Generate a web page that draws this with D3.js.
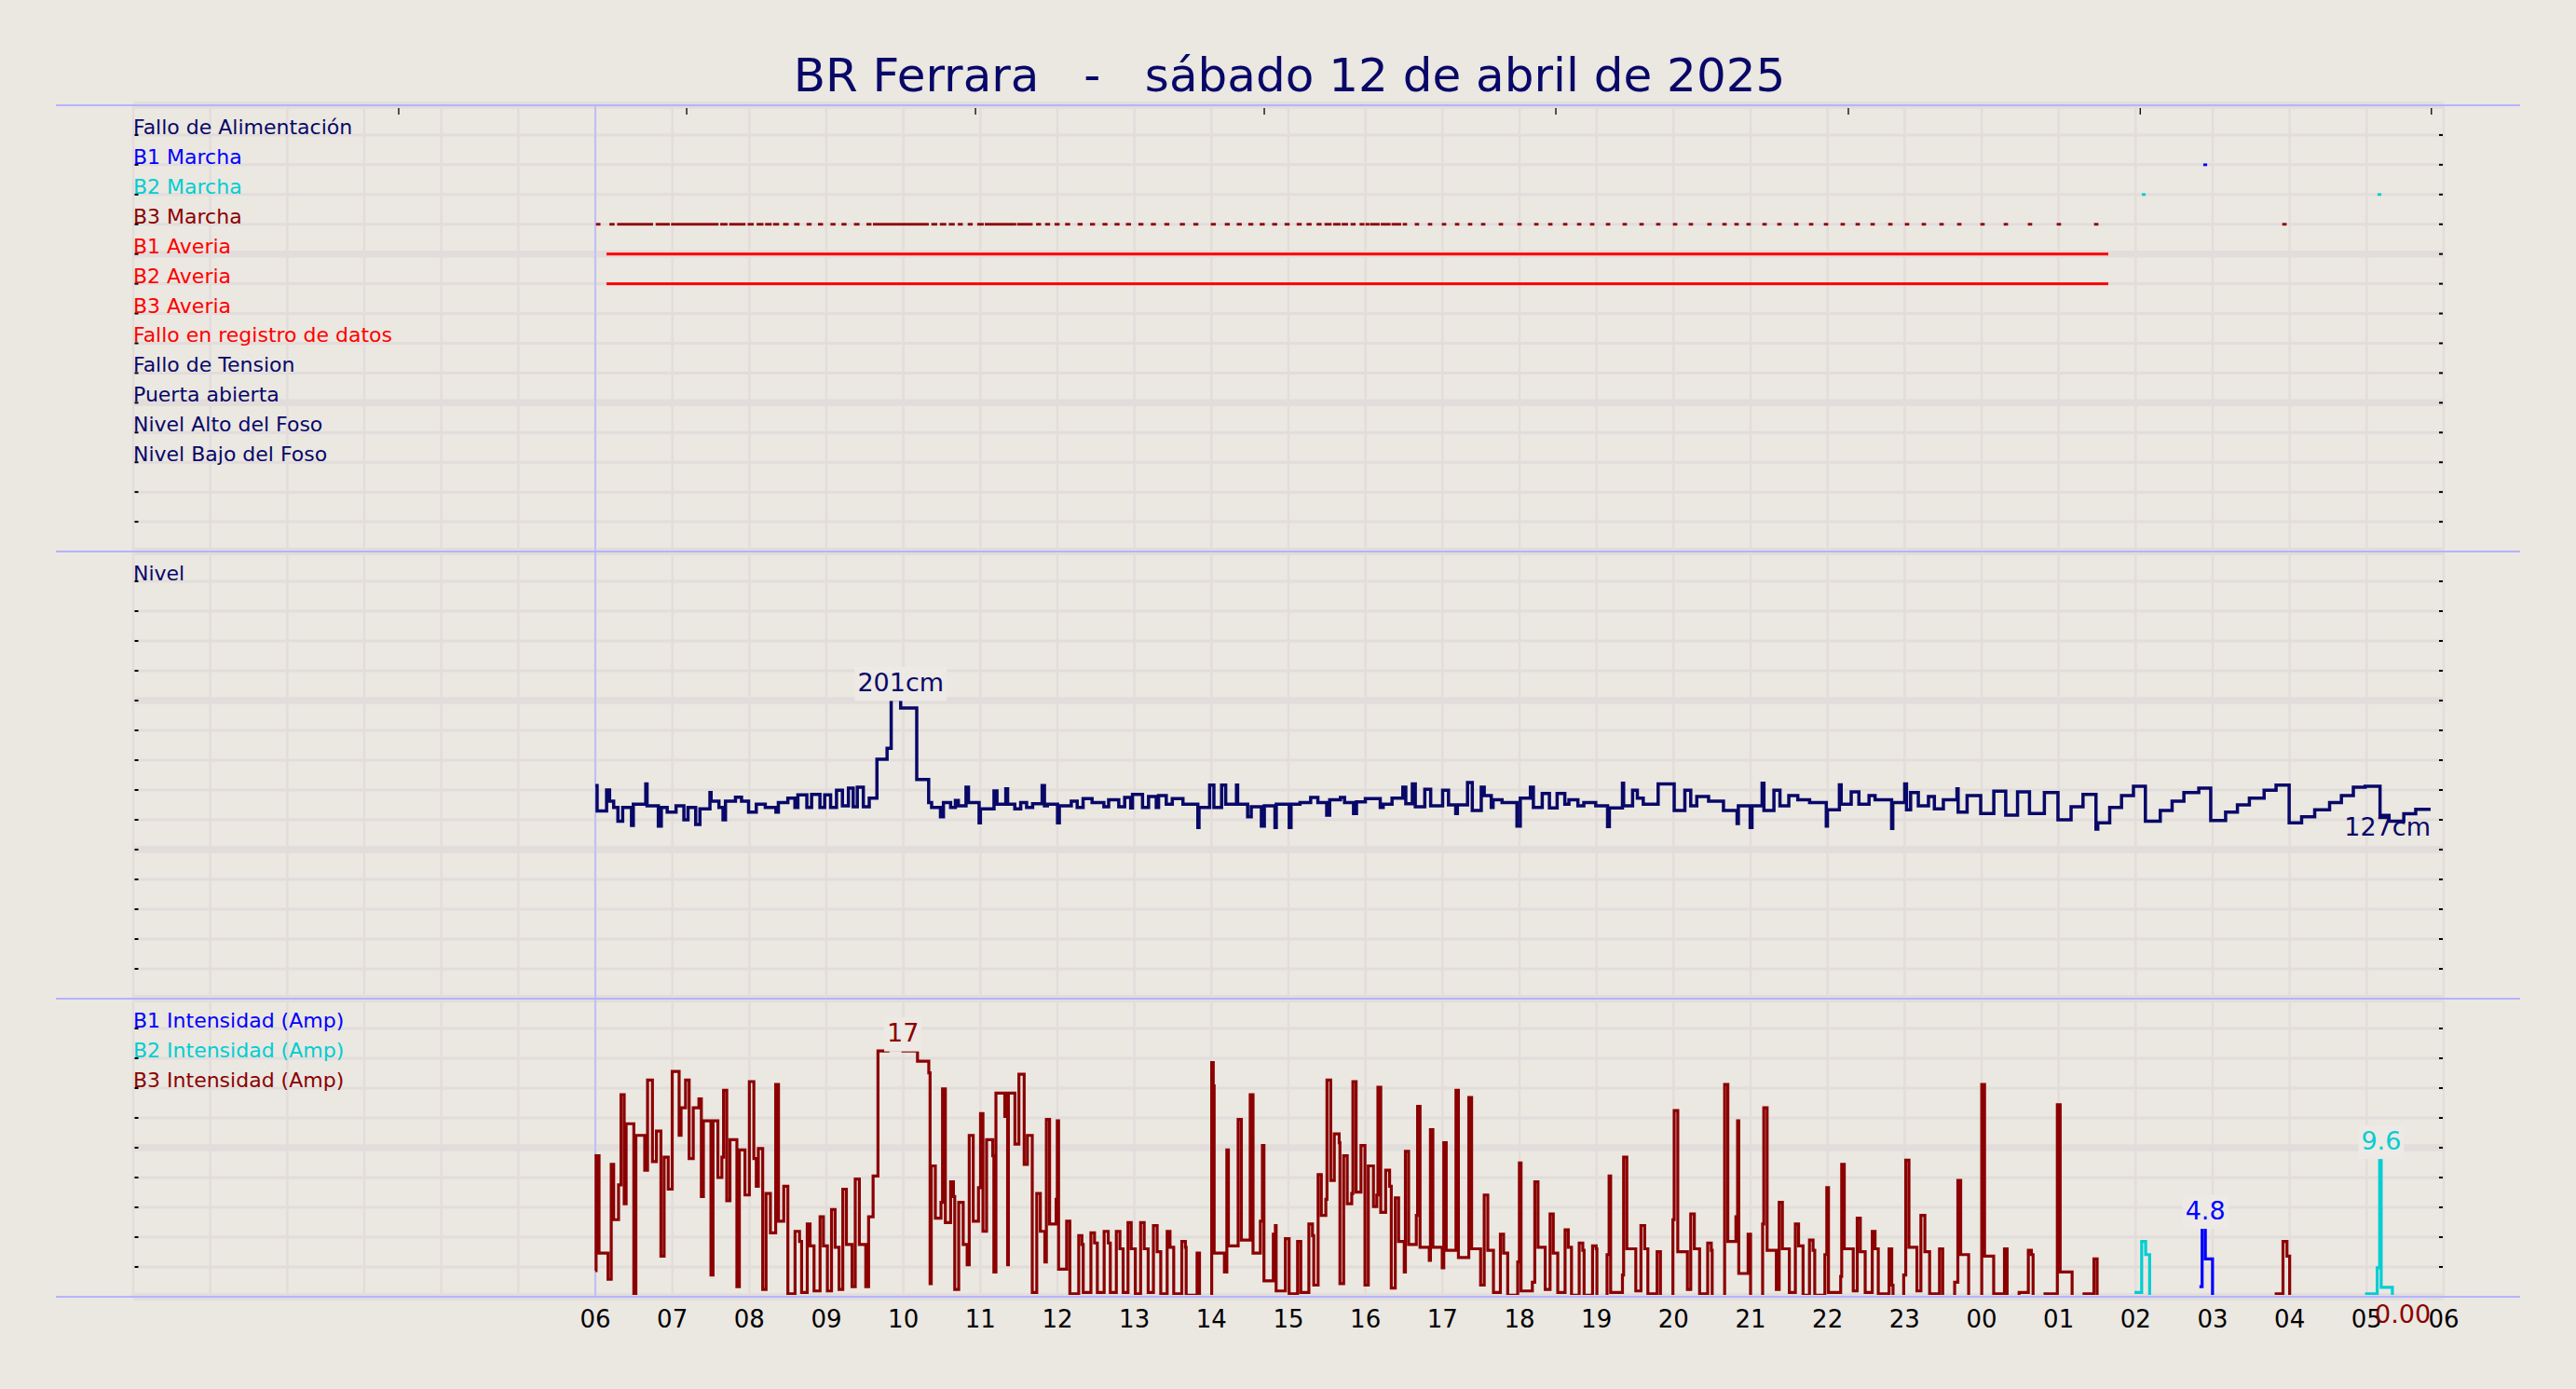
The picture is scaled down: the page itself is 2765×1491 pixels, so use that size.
<!DOCTYPE html>
<html><head><meta charset="utf-8">
<script src="https://cdn.jsdelivr.net/npm/d3@7"></script>
<style>html,body{margin:0;padding:0;background:#ebe7e1;overflow:hidden}svg{display:block;font-family:"DejaVu Sans",sans-serif}</style>
</head><body><svg id="chart" width="2765" height="1491"></svg>
<script>
// ---------------- DATA ----------------
const title = "BR Ferrara   -   sábado 12 de abril de 2025";
const signalLabels = ["Fallo de Alimentación","B1 Marcha","B2 Marcha","B3 Marcha","B1 Averia","B2 Averia","B3 Averia","Fallo en registro de datos","Fallo de Tension","Puerta abierta","Nivel Alto del Foso","Nivel Bajo del Foso"];
const signalColors = ["#080868","#0000ff","#00ced1","#8b0000","#ff0000","#ff0000","#ff0000","#ff0000","#080868","#080868","#080868","#080868"];
const levelLabel = "Nivel";
const currentLabels = ["B1 Intensidad (Amp)","B2 Intensidad (Amp)","B3 Intensidad (Amp)"];
const currentColors = ["#0000ff","#00ced1","#8b0000"];
const hourTicks = d3.range(6, 31);           // hours since 00:00 of the day
const topTicks = [3.447, 7.186, 10.936, 14.686, 18.472, 22.27, 26.06, 29.84];
// time in minutes since 00:00 of 12 April
const b1Averia = [[368.7, 1538.7]];
const b2Averia = [[368.7, 1538.7]];
const b1MarchaDots = [1614.2];
const b2MarchaDots = [1566.3, 1749.9];
const b3MarchaRuns = [[360.5,364],[371,375],[377,405],[407,418],[419,456],[457.3,463],[464.3,477],[478.7,483.4],[485.7,491],[492.3,497.4],[498.5,503.2],[506.3,510.6],[514.9,519.1],[524.6,528.5],[533.5,537.4],[543.2,547.1],[551.8,555.7],[561.5,565.8],[571.2,575.1],[576.3,619.8],[621.8,626.4],[628.4,633.4],[635.4,640],[642.4,646.3],[650.1,654],[657.5,662.6],[663.4,687.9],[688.6,700.7],[703.4,707.3],[710.4,714.3],[717.8,721.7],[726,729.9],[735.7,739.6],[745.4,749.3],[755.1,759],[764.5,768.4],[773.4,777.3],[783.1,787],[792.8,796.7],[803.3,807.2],[815.4,819.3],[825.9,829.8],[839.5,843.4],[850.4,854.3],[859.7,863.6],[868.7,872.6],[877.6,881.5],[887.3,891.2],[897,900.9],[906.4,910.3],[914.1,918],[921.9,925.8],[928.1,933.6],[934.8,940.6],[941.4,946.4],[948.4,952.3],[955.4,959.2],[960,963],[963.5,971],[971.8,979.5],[980.3,987.8]];
const b3MarchaDots = [990.7,1000.1,1010.3,1021.2,1031.4,1041.5,1051.7,1065.5,1080,1093.1,1104,1115.6,1126.5,1136.6,1149,1162,1175.1,1188.1,1201.2,1213.5,1228,1239.7,1249.1,1258.5,1270.9,1282.5,1295.6,1307.2,1318.8,1331.8,1343.5,1355.1,1368.9,1381.9,1395,1408.8,1422.6,1440.7,1458.9,1477.7,1500.2,1529.3,1675.9];

const levelData = [[360,143],[361.4,126],[368.8,140],[371.1,132.5],[374.3,128.3],[377.6,119],[381.3,128.3],[388.2,116.3],[389.6,130.4],[399.3,144],[400.3,129.4],[409.1,115.8],[411.4,128.3],[416,125.2],[422.9,129.4],[429,120],[432.2,128.3],[438.2,116.9],[441.5,127.3],[449.3,138.3],[450.2,132.5],[456.3,128.3],[459.5,120],[461.4,132.5],[469.2,135.2],[473.9,132.5],[479.4,125.2],[485.4,130.4],[492.4,128.3],[500.7,125.2],[502.6,131.5],[510,134.6],[515.5,128.3],[517.8,136.7],[524.8,128.3],[528.5,137.1],[535,128.3],[538.7,136.7],[543.3,128.3],[547.9,139.8],[552.5,129.4],[557.2,141.3],[560.9,128.8],[564.1,141.9],[568.8,128.8],[573.4,134.6],[579.4,160.6],[587.3,168],[590.5,201],[597.9,195],[610.4,147.1],[619.7,131.5],[622,128.3],[628.9,122.1],[631.2,131.5],[636.8,128.3],[640.5,132.9],[642.8,129.4],[648.8,141.9],[650.7,131.5],[659,118],[660,127.3],[670.6,139.4],[672.9,130.4],[679.8,140.8],[681.2,130.4],[686.8,127.3],[691.4,131.5],[696,128.3],[700.7,130.8],[708.1,142.9],[709.9,129.4],[712.2,130.4],[720.1,118],[721.5,129.4],[730.8,132.5],[735.4,128.3],[740,134.2],[747,131.5],[756.2,128.8],[759.9,133.5],[767.8,128.8],[772.4,135],[777.1,127.9],[778.5,137.1],[786.3,128.3],[791,135.6],[797,128.3],[798.8,136.3],[804.8,130.4],[809.5,134.2],[817.8,130.4],[829.4,114.8],[830.3,128.3],[838.6,143.3],[841.9,128.3],[847.9,143.3],[851.1,130.4],[859.5,143.3],[860.4,130.4],[868.2,122.1],[871,128.8],[878.9,115.8],[881.2,129.4],[889.5,114.8],[890.5,130.4],[900.6,114.8],[902,130.4],[909,131.5],[917.3,135],[922.9,131.5],[929.8,123.1],[932.1,133.5],[940.5,135],[943.7,131.5],[950.7,124.2],[953,132.1],[959.9,134.2],[971.5,128.3],[973.8,130.4],[980.7,134.6],[989.1,141.9],[991.4,130.8],[996.5,144],[998.8,128.8],[1006.2,140.4],[1010.8,129.4],[1020.1,139.8],[1024.7,130],[1030.3,124.2],[1031.6,130],[1039.5,145],[1043.2,126.3],[1050.2,141.9],[1052.5,136.3],[1058,128.3],[1059.4,133.5],[1066.4,131.5],[1078,115.8],[1080.6,134.6],[1088.5,141.9],[1090.8,128.3],[1097.7,137.7],[1103.3,127.9],[1109.3,137.7],[1115.3,130.4],[1118.5,133.5],[1125.5,129.4],[1130.1,131.5],[1139.4,129.4],[1148.6,115.4],[1150,127.9],[1160.2,144.6],[1161.1,129.4],[1168.1,139.8],[1171.8,134.6],[1176.4,130.4],[1188,144],[1200.5,126.3],[1208.8,139.8],[1213.4,129.4],[1218.1,135.6],[1227.3,132.5],[1238.9,126.3],[1249.5,117.5],[1250.5,129.4],[1259.7,114.8],[1261.1,129.4],[1269,144.6],[1270.4,126.3],[1278.2,139.8],[1282.9,129.4],[1289.8,136.3],[1296.8,133.5],[1306,131.5],[1319,115.8],[1319.9,126.7],[1329.2,143.5],[1330.6,130.4],[1338.4,138.8],[1344.4,130.4],[1352.3,136.3],[1357,133.5],[1369.9,114.2],[1370.8,131.5],[1380.1,144],[1381.5,126.7],[1384.7,138.3],[1390.7,129.4],[1398.6,135.6],[1403.2,127.3],[1410.2,133.5],[1420.8,140.8],[1421.7,125.2],[1428.7,136.3],[1439.3,124.2],[1449.5,139.2],[1458.8,123.1],[1468,138.8],[1477.3,124.2],[1488.9,138.3],[1499.5,120],[1509.7,128.8],[1519,137.1],[1529.1,113.8],[1530.5,117.9],[1539.8,128.3],[1549,136.3],[1558.3,142.5],[1567.6,119],[1579.2,126.3],[1588.4,132.5],[1597.6,138.3],[1609.2,141.3],[1618.5,119.6],[1630.1,125.2],[1639.3,130],[1648.6,134.6],[1660.1,139.8],[1669.4,143.3],[1679.6,117.9],[1689.3,122.1],[1699.5,126.7],[1711.1,131.5],[1720.3,136.3],[1729.6,141.9],[1738.8,142.5],[1750.4,123],[1757.4,119],[1768.9,124],[1778.2,127],[1789.8,127]];

const b3Current = [[360,1.8],[360.6,9.7],[362.9,3.0],[369.9,1.2],[372.4,9.1],[374.3,5.3],[378.1,7.7],[380,13.9],[382.5,6.4],[384,11.9],[390,0],[391.6,11.1],[398.5,8.7],[400.7,14.9],[404.5,9.3],[407.6,11.4],[411.1,2.8],[413.6,9.6],[416.8,7.4],[419.9,15.5],[425.3,11.1],[426.8,13.0],[430.3,14.9],[433.1,9.5],[436.3,13.0],[440.7,13.6],[442.6,6.9],[444.2,12.1],[450.1,1.5],[451.7,12.1],[455.5,8.2],[458.6,9.6],[459.9,14.2],[462.4,6.6],[464.9,10.8],[470.3,0.7],[472.2,10.1],[476.6,7.0],[480,14.8],[483.5,9.5],[485.4,7.6],[487,10.2],[490.4,0.5],[493,7.1],[496.4,4.4],[500.5,14.6],[502.7,5.2],[506.8,7.6],[510,0.2],[515.6,4.5],[519.1,3.8],[520.7,0.3],[525.1,5.0],[527.3,3.5],[530.4,0.4],[535.1,5.5],[537.7,3.5],[540.8,0.4],[544,6.0],[546.8,3.4],[549.9,0.5],[552.8,7.4],[555.6,3.6],[560,0.7],[562.5,8.1],[565.7,3.6],[570.7,0.7],[572.9,5.5],[576.4,8.3],[580.2,16.9],[588,17],[599.7,16.9],[611,16.2],[619.8,15.4],[620.8,0.9],[621.7,9.0],[624.9,5.4],[629.3,6.5],[630.5,14.3],[632.7,5.1],[636.8,7.9],[639,6.9],[640,0.5],[643.1,6.5],[646.6,3.6],[649.7,2.2],[651.3,11.1],[654.4,5.2],[658.5,7.5],[660.1,12.6],[662,4.5],[664.8,10.8],[669.6,9.7],[670.5,1.7],[672.1,14.0],[679,12.4],[679.6,14.0],[681.2,2.2],[681.8,14.0],[686.9,10.5],[690,15.3],[694.1,9.1],[696.6,11.1],[700.4,0.3],[703.9,7.1],[706.7,4.5],[710.2,2.4],[711.4,12.2],[713.9,5.0],[719,6.7],[719.9,12.1],[720.9,1.9],[727.2,5.2],[729.7,0.2],[736.6,4.2],[739.1,3.6],[740.1,0.3],[746.1,4.4],[748.9,3.7],[751.1,0.3],[756.4,4.5],[759.6,3.7],[761.2,0.3],[765.9,4.5],[768.7,3.3],[771.2,0.3],[775,5.1],[777.5,3.3],[780.7,0.2],[784.8,5.1],[787.6,3.3],[790.7,0.3],[794.8,4.9],[797.7,3.1],[800.5,0.2],[805.5,4.5],[807.7,3.4],[810.6,0.2],[816.9,3.8],[819.7,3.4],[820.3,0.1],[828.8,3.0],[830.7,0],[840.2,16.1],[841.4,14.5],[842.1,3.0],[850.1,1.7],[852,10.1],[853.2,3.5],[860.8,12.2],[863.3,3.9],[870.2,13.9],[872.4,3.0],[878.1,5.2],[879.7,10.4],[880.9,1.1],[888.2,4.3],[889.8,4.9],[890.4,0.4],[897.6,4.0],[900.5,0.2],[907.1,3.8],[909.6,0.3],[915.9,5.0],[918.7,4.2],[919.7,0.8],[923.1,8.4],[925.6,5.6],[929.1,6.7],[930,14.9],[932.9,8.0],[935.7,11.2],[939.5,10.6],[940.1,0.9],[943,9.7],[945.8,6.4],[949.3,7.1],[950.2,14.8],[952.7,7.2],[956.5,10.4],[959.6,0.8],[962.2,9.0],[966.2,6.2],[968.8,7.0],[969.7,14.4],[971.9,5.8],[975.7,8.7],[978.8,7.6],[980.1,0.6],[983.2,6.8],[985.8,3.8],[990.2,1.7],[991.1,10.0],[993.6,3.6],[999.6,5.6],[1000.6,13.1],[1002.5,3.4],[1009.7,2.5],[1010.6,11.5],[1012.5,3.4],[1019.8,2.0],[1021,10.6],[1022.9,3.2],[1030.5,14.2],[1032.4,2.7],[1040.5,13.7],[1042.7,3.3],[1049.7,0.8],[1052.5,7.0],[1055.3,3.2],[1059.7,0.3],[1065.1,4.3],[1067.6,3.0],[1070.8,0.1],[1078.6,2.4],[1079.9,9.2],[1081.2,0.4],[1090,1.0],[1091.9,7.9],[1094.4,3.4],[1100,0.5],[1103.8,5.7],[1106.3,3.0],[1109.8,0.3],[1115.5,4.6],[1118,3.4],[1120.5,0.1],[1126.5,3.7],[1129.3,3.2],[1130.3,0.1],[1136.9,3.5],[1139.7,3.3],[1140.3,0],[1148.2,2.9],[1149.8,8.3],[1151,0.3],[1160.2,1.5],[1161.1,9.6],[1163.6,3.3],[1170.6,0.4],[1174.6,4.9],[1177.5,3.3],[1180,0.2],[1187.2,3.1],[1189.8,0],[1199.5,5.3],[1200.5,12.8],[1203.3,3.1],[1210.8,0.5],[1213.4,5.7],[1216.2,3.3],[1220.3,0.2],[1226.6,3.7],[1229.4,3.2],[1230.1,0],[1239.8,14.6],[1242.3,3.8],[1248.6,5.5],[1249.9,12.1],[1250.8,1.6],[1258.1,4.3],[1260,0],[1269.4,5.0],[1270.3,13.0],[1272.9,3.2],[1280.1,0.5],[1282.3,6.5],[1284.8,3.3],[1290.2,0.3],[1294.9,5.0],[1297.4,3.5],[1300.9,0.1],[1305.9,3.9],[1308.7,3.2],[1310,0.1],[1317.9,2.9],[1319.4,7.5],[1320.7,0.3],[1330.2,1.4],[1331,9.1],[1333,3.3],[1340,0.4],[1343.1,5.4],[1345.5,3.1],[1349.3,0.3],[1354.8,4.5],[1357,3.3],[1359.5,0.2],[1367.9,3.3],[1370,0.8],[1371,0],[1379.3,1.5],[1380.9,9.4],[1383.4,3.4],[1389.6,0.4],[1392.7,5.6],[1395.8,3.1],[1399.5,0.2],[1407.2,3.3],[1409.7,0],[1419,1.0],[1421.5,8.0],[1423.7,2.9],[1429.9,0],[1440.1,14.6],[1442.3,2.8],[1449.4,0.2],[1457.8,3.3],[1459.9,0],[1469.2,0.3],[1476.4,3.2],[1478.8,2.9],[1480.1,0],[1489.4,0.2],[1499,13.2],[1501.2,1.7],[1510.5,0],[1519.8,0.2],[1527.5,2.6],[1530,0],[1669.5,0.2],[1674.8,3.8],[1677.9,2.8],[1680,0],[1790,0]];
const b1Current = [[1609.7,0.7],[1611.8,4.8],[1614.3,2.6],[1619.9,0]];
const b2Current = [[1559.1,0.3],[1564.7,3.8],[1567.8,2.9],[1570.9,0],[1739.9,0.2],[1748.2,2.0],[1750.1,9.6],[1751.3,0.65],[1760,0]];

// ---------------- STYLE ----------------
const BG = "#ebe7e1", GRID = "#e2dddb", SEP = "#b4b4ff", NAVY = "#080868", BOX = "#ede9e4";
const svg = d3.select("#chart");
svg.append("rect").attr("width", 2765).attr("height", 1491).attr("fill", BG);

// ---------------- SCALES ----------------
const x = d3.scaleLinear().domain([0, 1800]).range([143, 2623]);
const p1 = d3.scaleLinear().domain([-1, 14]).range([113, 592]);
const yLevel = d3.scaleLinear().domain([0, 300]).range([1072, 592]);
const p3 = d3.scaleLinear().domain([0, 10]).range([1392, 1072]);
const yCur = d3.scaleLinear().domain([0, 20.5]).range([1392, 1072]);

// horizontal grid definitions
const hGrid = [];
d3.range(-1, 15).forEach(r => hGrid.push({y: p1(r), major: (r + 1) % 5 === 0}));
d3.range(0, 301, 20).forEach(v => hGrid.push({y: yLevel(v), major: v % 100 === 0}));
d3.range(0, 11).forEach(r => hGrid.push({y: p3(r), major: r % 5 === 0}));

const grid = svg.append("g");
grid.selectAll("line.v").data(d3.range(0, 1801, 60)).join("line")
  .attr("x1", d => x(d)).attr("x2", d => x(d)).attr("y1", 113).attr("y2", 1393)
  .attr("stroke", GRID).attr("stroke-width", 2.5);
grid.selectAll("line.h").data(hGrid).join("line")
  .attr("x1", x(0)).attr("x2", x(1800)).attr("y1", d => d.y).attr("y2", d => d.y)
  .attr("stroke", GRID).attr("stroke-width", d => d.major ? 7.5 : 3);

// small ticks left / right / top
const ticks = svg.append("g");
ticks.selectAll("line.l").data(hGrid).join("line")
  .attr("x1", x(0) + 1.5).attr("x2", x(0) + 5.5).attr("y1", d => d.y).attr("y2", d => d.y)
  .attr("stroke", "#000").attr("stroke-width", 2);
ticks.selectAll("line.r").data(hGrid).join("line")
  .attr("x1", x(1800) - 5).attr("x2", x(1800) - 1).attr("y1", d => d.y).attr("y2", d => d.y)
  .attr("stroke", "#000").attr("stroke-width", 2);
ticks.selectAll("line.t").data(topTicks).join("line")
  .attr("x1", d => x(d * 60)).attr("x2", d => x(d * 60)).attr("y1", 116).attr("y2", 123)
  .attr("stroke", "#000").attr("stroke-width", 1.3);

// 06:00 vertical marker
svg.append("line").attr("x1", x(360)).attr("x2", x(360)).attr("y1", 113).attr("y2", 1392)
  .attr("stroke", SEP).attr("stroke-width", 1.5);

// title
svg.append("text").attr("x", 1384).attr("y", 98).attr("text-anchor", "middle")
  .attr("font-size", 50).attr("fill", NAVY).style("white-space", "pre").text(title);

// row labels
const lab = svg.append("g").attr("font-size", 22);
lab.selectAll("text.s").data(signalLabels).join("text")
  .attr("x", x(0)).attr("y", (d, i) => p1(i) - 1).attr("fill", (d, i) => signalColors[i]).text(d => d);
lab.append("text").attr("x", x(0)).attr("y", yLevel(280) - 1).attr("fill", NAVY).text(levelLabel);
lab.selectAll("text.c").data(currentLabels).join("text")
  .attr("x", x(0)).attr("y", (d, i) => p3(9 - i) - 1).attr("fill", (d, i) => currentColors[i]).text(d => d);

// clip (zero-current lines sit hidden under the bottom axis line)
svg.append("defs").append("clipPath").attr("id", "clip").append("rect")
  .attr("x", x(0)).attr("y", 113).attr("width", x(1800) - x(0)).attr("height", 1390 - 113);
const data = svg.append("g").attr("clip-path", "url(#clip)");

// digital signals
function bars(list, row, color, h) {
  data.append("g").selectAll("rect").data(list).join("rect")
    .attr("x", d => x(d[0])).attr("width", d => Math.max(3.5, x(d[1]) - x(d[0])))
    .attr("y", p1(row) - h / 2).attr("height", h).attr("fill", color);
}
bars(b1Averia, 4, "#ff0000", 3);
bars(b2Averia, 5, "#ff0000", 3);
bars(b3MarchaRuns, 3, "#8b0000", 2.8);
bars(b3MarchaDots.map(c => [c - 1.7, c + 1.7]), 3, "#8b0000", 2.8);
bars(b1MarchaDots.map(c => [c - 1.5, c + 1.5]), 1, "#0000ff", 2.8);
bars(b2MarchaDots.map(c => [c - 1.5, c + 1.5]), 2, "#00ced1", 2.8);

// step lines
const lvlLine = d3.line().x(d => x(d[0])).y(d => yLevel(d[1])).curve(d3.curveStepAfter);
const curLine = d3.line().x(d => x(d[0])).y(d => yCur(d[1])).curve(d3.curveStepAfter);
data.append("path").attr("d", lvlLine(levelData)).attr("fill", "none").attr("stroke", NAVY).attr("stroke-width", 3.5);
data.append("path").attr("d", curLine(b3Current)).attr("fill", "none").attr("stroke", "#8b0000").attr("stroke-width", 3.2);
data.append("path").attr("d", curLine(b1Current)).attr("fill", "none").attr("stroke", "#0000ff").attr("stroke-width", 3.2);
data.append("path").attr("d", curLine(b2Current)).attr("fill", "none").attr("stroke", "#00ced1").attr("stroke-width", 3.2);

// peak annotations
function peak(series, yScale, fmt, color) {
  const i = d3.maxIndex(series, d => d[1]);
  const cx = x(series[Math.min(i + 1, series.length - 1)][0]);
  const yp = yScale(series[i][1]);
  const g = svg.append("g");
  const t = g.append("text").attr("x", cx).attr("y", yp - 8.5).attr("text-anchor", "middle")
    .attr("font-size", 27).attr("fill", color).text(fmt(series[i][1]));
  const bb = t.node().getBBox();
  g.insert("rect", "text").attr("x", bb.x - 3).attr("y", bb.y - 1)
    .attr("width", bb.width + 6).attr("height", yp + 2 - (bb.y - 1)).attr("fill", BOX);
}
peak(levelData, yLevel, v => Math.round(v) + "cm", NAVY);
peak(b3Current, yCur, v => String(v), "#8b0000");
peak(b1Current, yCur, v => String(v), "#0000ff");
peak(b2Current, yCur, v => String(v), "#00ced1");

// end annotations
const lastL = levelData[levelData.length - 1];
svg.append("text").attr("x", x(lastL[0])).attr("y", yLevel(lastL[1]) + 28).attr("text-anchor", "end")
  .attr("font-size", 27).attr("fill", NAVY).text(Math.round(lastL[1]) + "cm");

// separators
svg.append("g").selectAll("line").data([113, 592, 1072, 1392]).join("line")
  .attr("x1", 60).attr("x2", 2705).attr("y1", d => d).attr("y2", d => d)
  .attr("stroke", SEP).attr("stroke-width", 2);

// x tick labels
svg.append("g").selectAll("text").data(hourTicks).join("text")
  .attr("x", d => x(d * 60)).attr("y", 1425).attr("text-anchor", "middle")
  .attr("font-size", 26).attr("fill", "#000").text(d => String(d % 24).padStart(2, "0"));

// last B3 value (drawn over the tick labels, as in the original)
const lastC = b3Current[b3Current.length - 1];
svg.append("text").attr("x", x(lastC[0])).attr("y", 1420).attr("text-anchor", "end")
  .attr("font-size", 27).attr("fill", "#8b0000").text(lastC[1].toFixed(2));
</script></body></html>
